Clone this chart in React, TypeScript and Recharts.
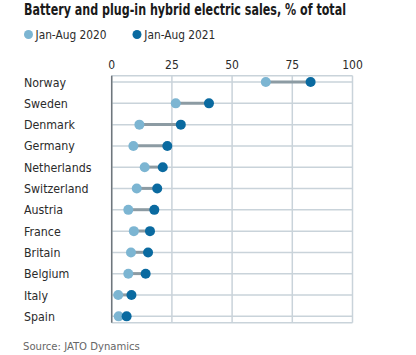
import React from "react";
import { ComposedChart, Bar, Line, XAxis, YAxis, CartesianGrid, ReferenceLine } from "recharts";

const countries = ["Norway", "Sweden", "Denmark", "Germany", "Netherlands", "Switzerland", "Austria", "France", "Britain", "Belgium", "Italy", "Spain"];
const sales2020 = [64.0, 26.6, 11.5, 9.0, 13.7, 10.4, 6.9, 9.2, 8.0, 6.9, 2.7, 2.9];
const sales2021 = [82.6, 40.4, 28.7, 23.1, 21.2, 18.9, 17.7, 15.9, 15.1, 14.1, 8.2, 6.2];
const xTicks = [0, 25, 50, 75, 100];
const seriesNames = ["Jan-Aug 2020", "Jan-Aug 2021"];

const data = countries.map((c, i) => ({
  country: c,
  y2020: sales2020[i],
  y2021: sales2021[i],
  range: [Math.min(sales2020[i], sales2021[i]), Math.max(sales2020[i], sales2021[i])],
}));

const FONT = '"Liberation Sans Narrow", "DejaVu Sans Condensed", Roboto, sans-serif';
const LIGHT = "#7cb5d2";
const DARK = "#0a6aa0";

const YTick = (props: any) => {
  const { y, payload } = props;
  return (
    <text x={24} y={y} dy={4.5} textAnchor="start" fontSize={12.3} fontFamily={FONT} fill="#2b2b2b">
      {payload.value}
    </text>
  );
};

const XTick = (props: any) => {
  const { x, payload } = props;
  return (
    <text x={x} y={69} textAnchor="middle" fontSize={12} fontFamily={FONT} fill="#2b2b2b">
      {payload.value}
    </text>
  );
};

export default function App() {
  return (
    <div style={{ position: "absolute", left: 0, top: 0, width: 416, height: 355, background: "#fff", fontFamily: FONT }}>
      <svg width={416} height={45} style={{ position: "absolute", left: 0, top: 0 }}>
        <text x={24} y={15} fontSize={15} fontWeight={700} fill="#1a1a1a" fontFamily={FONT} textLength={322} lengthAdjust="spacingAndGlyphs">
          Battery and plug-in hybrid electric sales, % of total
        </text>
        <circle cx={28.5} cy={34.5} r={4.5} fill={LIGHT} />
        <text x={35.5} y={39} fontSize={13} fill="#2b2b2b" fontFamily={FONT} textLength={71} lengthAdjust="spacingAndGlyphs">
          {seriesNames[0]}
        </text>
        <circle cx={137} cy={34.5} r={4.5} fill={DARK} />
        <text x={144.3} y={39} fontSize={13} fill="#2b2b2b" fontFamily={FONT} textLength={71} lengthAdjust="spacingAndGlyphs">
          {seriesNames[1]}
        </text>
      </svg>
      <div style={{ position: "absolute", left: 0, top: 0 }}>
        <ComposedChart
          width={416}
          height={355}
          data={data}
          layout="vertical"
          margin={{ top: 50, left: 21.7, right: 63.5, bottom: 32.3 }}
        >
          <CartesianGrid stroke="#c9d3da" strokeWidth={1.5} />
          <XAxis
            type="number"
            orientation="top"
            domain={[0, 100]}
            ticks={xTicks}
            axisLine={false}
            tickLine={false}
            height={25.7}
            tick={<XTick />}
          />
          <YAxis
            type="category"
            dataKey="country"
            width={90}
            axisLine={false}
            tickLine={false}
            padding={{ top: -4.3, bottom: -4.3 }}
            tick={<YTick />}
            interval={0}
          />
          <ReferenceLine x={0} stroke="#6f767c" strokeWidth={1.5} />
          <Bar dataKey="range" barSize={3} fill="#8c9ba3" isAnimationActive={false} />
          <Line dataKey="y2020" stroke="none" dot={{ r: 5, fill: LIGHT, stroke: "none" }} activeDot={false} isAnimationActive={false} />
          <Line dataKey="y2021" stroke="none" dot={{ r: 5, fill: DARK, stroke: "none" }} activeDot={false} isAnimationActive={false} />
        </ComposedChart>
      </div>
      <div style={{ position: "absolute", left: 23, top: 340, fontSize: 11.2, color: "#666", whiteSpace: "nowrap" }}>
        Source: JATO Dynamics
      </div>
    </div>
  );
}
